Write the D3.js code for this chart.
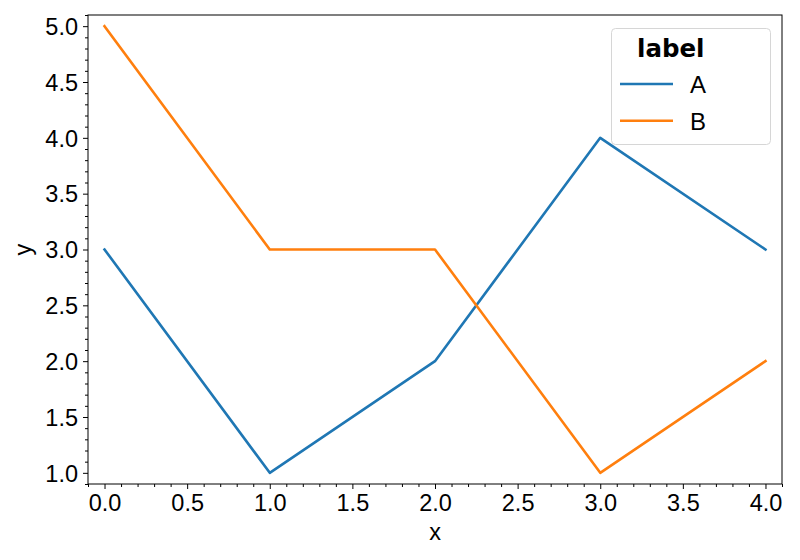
<!DOCTYPE html>
<html><head><meta charset="utf-8">
<script src="https://cdn.jsdelivr.net/npm/d3@7"></script>
<style>body{margin:0;background:#fff}</style>
</head><body><svg id="c" width="800" height="560"></svg>
<script>
const xs = [0, 1, 2, 3, 4];
const seriesA = [3, 1, 2, 4, 3];
const seriesB = [5, 3, 3, 1, 2];
const seriesNames = ["A", "B"];
const colors = ["#1f77b4", "#ff7f0e"];
const xTicks = [0, 0.5, 1, 1.5, 2, 2.5, 3, 3.5, 4];
const yTicks = [1, 1.5, 2, 2.5, 3, 3.5, 4, 4.5, 5];
const legendTitle = "label";

const svg = d3.select("#c");
const L = 88, R = 782, T = 15, B = 484;
const x = d3.scaleLinear().domain([-0.1, 4.1]).range([L, R]);
const y = d3.scaleLinear().domain([0.9, 5.1]).range([B, T]);
const font = "'Liberation Sans', Arial, sans-serif";

const minorX = d3.range(-1, 42).map(i => i / 10).filter(v => v >= -0.1 && v <= 4.1 && Math.abs(v*2 - Math.round(v*2)) > 1e-6);
const minorY = d3.range(9, 52).map(i => i / 10).filter(v => v >= 0.9 && v <= 5.1 && Math.abs(v*2 - Math.round(v*2)) > 1e-6);

svg.append("g").attr("transform", `translate(0,${B})`)
  .call(d3.axisBottom(x).tickValues(minorX).tickSize(3).tickFormat(""))
  .call(g => g.select(".domain").remove());
svg.append("g").attr("transform", `translate(${L},0)`)
  .call(d3.axisLeft(y).tickValues(minorY).tickSize(3).tickFormat(""))
  .call(g => g.select(".domain").remove());

const gx = svg.append("g").attr("transform", `translate(0,${B})`)
  .call(d3.axisBottom(x).tickValues(xTicks).tickSize(5).tickPadding(5).tickFormat(d3.format(".1f")))
  .call(g => g.select(".domain").remove());
gx.selectAll("text").attr("font-family", font).attr("font-size", 23.5).attr("fill", "#000");
const gy = svg.append("g").attr("transform", `translate(${L},0)`)
  .call(d3.axisLeft(y).tickValues(yTicks).tickSize(5).tickPadding(5).tickFormat(d3.format(".1f")))
  .call(g => g.select(".domain").remove());
gy.selectAll("text").attr("font-family", font).attr("font-size", 23.5).attr("fill", "#000").attr("dy", "0.35em");
svg.selectAll(".tick line").attr("stroke", "#000").attr("stroke-width", 1);

const line = d3.line().x((d, i) => x(xs[i])).y(d => y(d));
[seriesA, seriesB].forEach((s, i) => {
  svg.append("path").datum(s).attr("d", line).attr("fill", "none")
    .attr("stroke", colors[i]).attr("stroke-width", 2.6).attr("stroke-linejoin", "round").attr("stroke-linecap", "square");
});

svg.append("rect").attr("x", L).attr("y", T).attr("width", R - L).attr("height", B - T)
  .attr("fill", "none").attr("stroke", "#000").attr("stroke-width", 1);

svg.append("text").attr("x", (L + R) / 2).attr("y", 540).attr("text-anchor", "middle")
  .attr("font-family", font).attr("font-size", 23.5).text("x");
svg.append("text").attr("transform", `translate(31,${(T + B) / 2}) rotate(-90)`).attr("text-anchor", "middle")
  .attr("font-family", font).attr("font-size", 23.5).text("y");

const lg = svg.append("g");
lg.append("rect").attr("x", 611.5).attr("y", 28.5).attr("width", 159).attr("height", 116).attr("rx", 4)
  .attr("fill", "#fff").attr("fill-opacity", 0.8).attr("stroke", "#d6d6d6").attr("stroke-width", 1);
lg.append("text").attr("x", 637).attr("y", 56.5).attr("font-family", "'DejaVu Sans', sans-serif")
  .attr("font-weight", "bold").attr("font-size", 24.5).text(legendTitle);
seriesNames.forEach((n, i) => {
  const yy = 84 + i * 36.7;
  lg.append("line").attr("x1", 620).attr("x2", 673).attr("y1", yy).attr("y2", yy)
    .attr("stroke", colors[i]).attr("stroke-width", 2.6);
  lg.append("text").attr("x", 690).attr("y", yy + 9).attr("font-family", font).attr("font-size", 24).text(n);
});
</script></body></html>
